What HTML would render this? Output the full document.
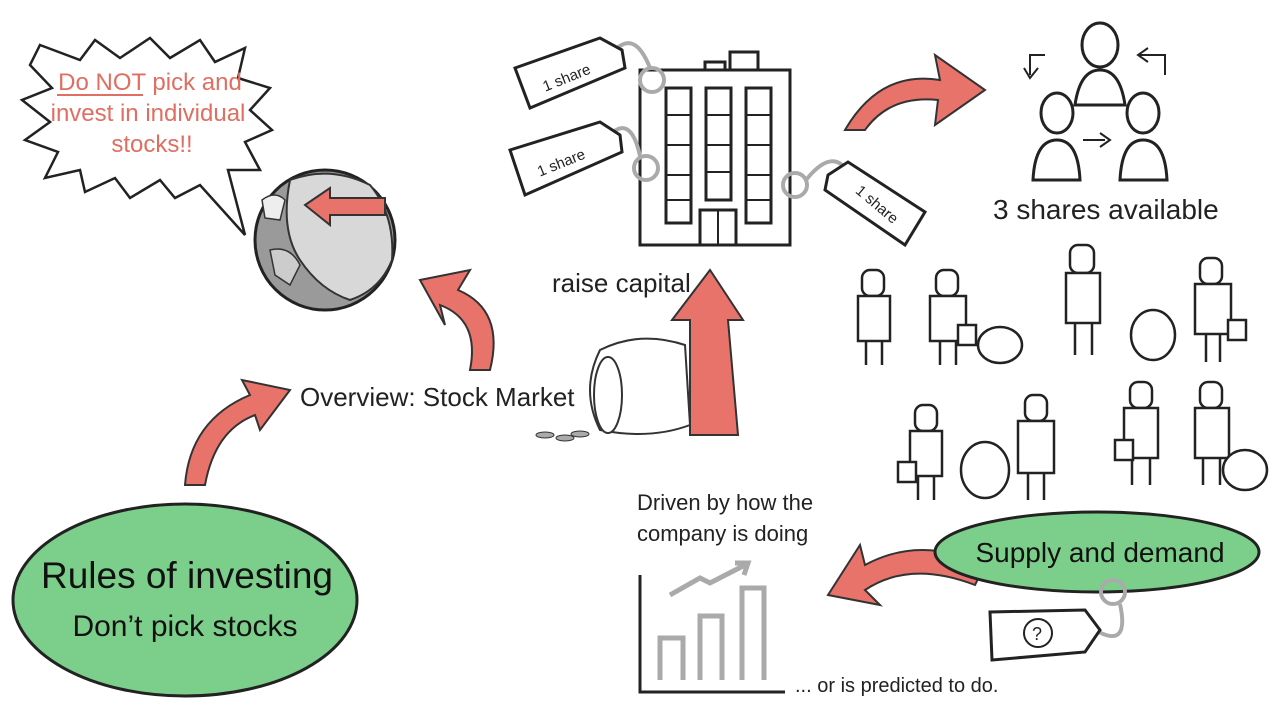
<!DOCTYPE html>
<html><head><meta charset="utf-8"><style>
html,body{margin:0;padding:0;background:#fff;}
svg{display:block;font-family:"Liberation Sans",sans-serif;}
</style></head><body>
<svg width="1280" height="720" viewBox="0 0 1280 720" xmlns="http://www.w3.org/2000/svg">
<rect width="1280" height="720" fill="#fff"/>
<!-- speech bubble -->
<path d="M40 45 L80 60 L95 40 L120 58 L150 38 L170 58 L200 40 L215 62 L245 48 L238 78 L270 88 L250 110 L272 130 L245 142 L260 170 L228 170 L245 235 L200 185 L175 198 L160 180 L130 198 L115 178 L85 192 L80 170 L45 178 L58 152 L25 140 L50 122 L22 100 L52 88 L30 65 Z" fill="#fff" stroke="#222" stroke-width="2.5"/>
<g fill="#e06e62" font-size="24" text-anchor="middle">
<text x="150" y="90">Do NOT pick and</text>
<text x="148" y="121">invest in individual</text>
<text x="152" y="152">stocks!!</text>
</g>
<line x1="57" y1="95" x2="143" y2="95" stroke="#e06e62" stroke-width="2"/>
<!-- globe -->
<circle cx="325" cy="240" r="70" fill="#9a9a9a" stroke="#222" stroke-width="3"/>
<path d="M290 180 Q330 165 370 185 Q395 215 392 260 Q380 290 350 300 Q320 290 300 260 Q280 230 290 180Z" fill="#d8d8d8" stroke="#333" stroke-width="2"/>
<path d="M262 200 Q275 190 285 200 L280 220 L265 218Z" fill="#eee" stroke="#333" stroke-width="1.5"/>
<path d="M270 250 Q290 245 300 265 L290 285 L275 275Z" fill="#ccc" stroke="#333" stroke-width="1.5"/>
<path d="M305 205 L330 188 L330 198 L385 198 L385 215 L330 215 L330 225Z" fill="#e8736a" stroke="#333" stroke-width="2"/>
<!-- red arrows -->
<g fill="#e8736a" stroke="#333" stroke-width="2">
<path d="M185 485 Q190 420 250 395 L242 380 L290 390 L260 430 L255 415 Q215 430 205 485Z"/>
<path d="M470 370 Q480 320 440 305 L445 325 L420 280 L470 270 L458 290 Q505 310 490 370Z"/>
<path d="M845 130 Q880 70 940 80 L935 55 L985 90 L935 125 L938 100 Q890 95 865 130Z"/>
<path d="M975 585 Q910 560 865 590 L880 605 L828 595 L860 545 L865 565 Q920 535 985 565Z"/>
<path d="M690 435 L690 320 L672 320 L710 270 L743 320 L728 320 L738 435Z"/>
</g>
<!-- green ellipses -->
<ellipse cx="185" cy="600" rx="172" ry="96" fill="#7ccf8a" stroke="#222" stroke-width="3"/>
<text x="187" y="588" font-size="37" text-anchor="middle" fill="#111">Rules of investing</text>
<text x="185" y="636" font-size="30" text-anchor="middle" fill="#111">Don’t pick stocks</text>
<ellipse cx="1097" cy="552" rx="162" ry="40" fill="#7ccf8a" stroke="#222" stroke-width="3"/>
<text x="1100" y="562" font-size="28" text-anchor="middle" fill="#111">Supply and demand</text>
<!-- texts -->
<text x="300" y="406" font-size="26" fill="#222">Overview: Stock Market</text>
<text x="552" y="292" font-size="26" fill="#222">raise capital</text>
<text x="993" y="219" font-size="28" fill="#222">3 shares available</text>
<text x="637" y="510" font-size="22" fill="#222">Driven by how the</text>
<text x="637" y="541" font-size="22" fill="#222">company is doing</text>
<text x="795" y="692" font-size="20" fill="#222">... or is predicted to do.</text>
<!-- money bag -->
<path d="M600 350 Q640 330 685 345 L690 425 Q650 440 600 430 Q580 390 600 350Z" fill="#fff" stroke="#333" stroke-width="2"/>
<ellipse cx="608" cy="395" rx="14" ry="38" fill="#fff" stroke="#333" stroke-width="2"/>
<g fill="#aaa" stroke="#333"><ellipse cx="545" cy="435" rx="9" ry="3"/><ellipse cx="565" cy="438" rx="9" ry="3"/><ellipse cx="580" cy="434" rx="9" ry="3"/></g>
<!-- building -->
<g fill="#fff" stroke="#222" stroke-width="3">
<rect x="640" y="70" width="150" height="175"/>
<rect x="705" y="62" width="20" height="8"/><rect x="730" y="52" width="28" height="18"/>
<rect x="666" y="88" width="25" height="135"/><rect x="706" y="88" width="25" height="112"/><rect x="746" y="88" width="25" height="135"/>
<rect x="700" y="210" width="36" height="35"/>
</g>
<g stroke="#222" stroke-width="2"><line x1="666" y1="115" x2="691" y2="115"/><line x1="666" y1="145" x2="691" y2="145"/><line x1="666" y1="175" x2="691" y2="175"/><line x1="666" y1="200" x2="691" y2="200"/><line x1="706" y1="115" x2="731" y2="115"/><line x1="706" y1="145" x2="731" y2="145"/><line x1="706" y1="172" x2="731" y2="172"/><line x1="746" y1="115" x2="771" y2="115"/><line x1="746" y1="145" x2="771" y2="145"/><line x1="746" y1="175" x2="771" y2="175"/><line x1="746" y1="200" x2="771" y2="200"/><line x1="718" y1="210" x2="718" y2="245"/><line x1="640" y1="245" x2="790" y2="245"/></g>
<!-- tags -->
<g fill="none" stroke="#aaa" stroke-width="4">
<circle cx="652" cy="80" r="12"/><path d="M615 50 Q635 30 650 68"/>
<circle cx="646" cy="168" r="12"/><path d="M605 140 Q630 110 640 156"/>
<circle cx="795" cy="185" r="12"/><path d="M806 180 Q830 150 845 168"/>
<circle cx="1113" cy="592" r="12"/><path d="M1095 630 Q1130 650 1120 604"/>
</g>
<g fill="#fff" stroke="#222" stroke-width="3">
<path d="M515 68 L600 38 L622 50 L625 68 L530 108 Z"/>
<path d="M510 150 L600 122 L620 135 L622 152 L525 195 Z"/>
<path d="M828 175 L848 162 L925 212 L905 245 L825 190 Z"/>
<path d="M990 612 L1085 610 L1100 630 L1085 652 L992 660 Z"/>
</g>
<g font-size="15" fill="#222">
<text x="540" y="85" transform="rotate(-22 560 75)">1 share</text>
<text x="535" y="168" transform="rotate(-22 560 160)">1 share</text>
<text x="850" y="205" transform="rotate(40 870 205)">1 share</text>
</g>
<circle cx="1038" cy="633" r="14" fill="#fff" stroke="#222" stroke-width="2"/>
<text x="1032" y="640" font-size="18" fill="#222">?</text>
<!-- people group -->
<g fill="none" stroke="#222" stroke-width="3">
<ellipse cx="1100" cy="45" rx="18" ry="22"/><path d="M1075 105 Q1080 70 1100 70 Q1120 70 1125 105Z"/>
<ellipse cx="1057" cy="113" rx="16" ry="20"/><path d="M1033 180 Q1035 140 1057 140 Q1078 140 1080 180Z"/>
<ellipse cx="1143" cy="113" rx="16" ry="20"/><path d="M1120 180 Q1122 140 1143 140 Q1165 140 1167 180Z"/>
<path d="M1045 55 L1030 55 L1030 75 M1024 68 L1030 78 L1038 68" stroke-width="2"/>
<path d="M1165 75 L1165 55 L1140 55 M1148 48 L1138 55 L1148 62" stroke-width="2"/>
<path d="M1083 140 L1105 140 M1100 133 L1110 140 L1100 147" stroke-width="2"/>
</g>
<!-- business people (simplified) -->
<g fill="#fff" stroke="#222" stroke-width="2.5">
<rect x="862" y="270" width="22" height="26" rx="8"/><rect x="858" y="296" width="32" height="45"/><path d="M866 341 L866 365 M882 341 L882 365"/>
<rect x="936" y="270" width="22" height="26" rx="8"/><rect x="930" y="296" width="36" height="45"/><path d="M940 341 L940 365 M956 341 L956 365"/>
<ellipse cx="1000" cy="345" rx="22" ry="18"/><rect x="958" y="325" width="18" height="20"/>
<rect x="1070" y="245" width="24" height="28" rx="8"/><rect x="1066" y="273" width="34" height="50"/><path d="M1075 323 L1075 355 M1092 323 L1092 355"/>
<ellipse cx="1153" cy="335" rx="22" ry="25"/>
<rect x="1200" y="258" width="22" height="26" rx="8"/><rect x="1195" y="284" width="36" height="50"/><path d="M1206 334 L1206 362 M1220 334 L1220 362"/><rect x="1228" y="320" width="18" height="20"/>
<rect x="915" y="405" width="22" height="26" rx="8"/><rect x="910" y="431" width="32" height="45"/><path d="M918 476 L918 500 M934 476 L934 500"/><rect x="898" y="462" width="18" height="20"/>
<ellipse cx="985" cy="470" rx="24" ry="28"/>
<rect x="1025" y="395" width="22" height="26" rx="8"/><rect x="1018" y="421" width="36" height="52"/><path d="M1028 473 L1028 500 M1044 473 L1044 500"/>
<rect x="1130" y="382" width="22" height="26" rx="8"/><rect x="1124" y="408" width="34" height="50"/><path d="M1132 458 L1132 485 M1150 458 L1150 485"/><rect x="1115" y="440" width="18" height="20"/>
<rect x="1200" y="382" width="22" height="26" rx="8"/><rect x="1195" y="408" width="34" height="50"/><path d="M1203 458 L1203 485 M1220 458 L1220 485"/>
<ellipse cx="1245" cy="470" rx="22" ry="20"/>
</g>
<!-- chart -->
<g fill="none" stroke="#222" stroke-width="3"><path d="M640 575 L640 692 L785 692"/></g>
<g fill="none" stroke="#aaa" stroke-width="5">
<path d="M660 680 L660 638 L683 638 L683 680"/>
<path d="M700 680 L700 616 L722 616 L722 680"/>
<path d="M742 680 L742 588 L764 588 L764 680"/>
<path d="M670 595 L700 578 L710 583 L745 565 M735 563 L748 563 L744 575"/>
</g>
</svg>
</body></html>
